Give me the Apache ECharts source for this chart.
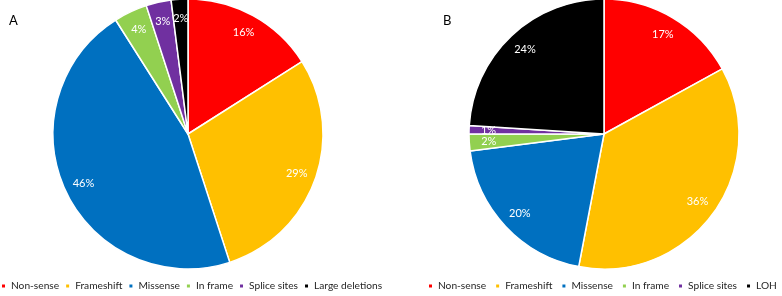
<!DOCTYPE html>
<html><head><meta charset="utf-8">
<script src="https://cdn.jsdelivr.net/npm/echarts@6/dist/echarts.min.js"></script>
<style>html,body{margin:0;padding:0;background:#fff}#c{width:782px;height:296px}</style>
</head><body><div id="c"></div>
<script>
const categoriesA = ['Non-sense','Frameshift','Missense','In frame','Splice sites','Large deletions'];
const valuesA = [16, 29, 46, 4, 3, 2];
const categoriesB = ['Non-sense','Frameshift','Missense','In frame','Splice sites','LOH'];
const valuesB = [17, 36, 20, 2, 1, 24];
const colors = ['#FF0000','#FFC000','#0070C0','#92D050','#7030A0','#000000'];
const panelTitles = ['A','B'];

const font = 'Lato, Liberation Sans, Arial, sans-serif';
function mk(cats, vals){ return cats.map((n,i)=>({name:n, value:vals[i], itemStyle:{color:colors[i]}})); }
function mainSeries(cats, vals, center){
  return {type:'pie', center:center, radius:[0,135], startAngle:90, clockwise:true,
    data:mk(cats,vals), label:{show:false}, labelLine:{show:false},
    itemStyle:{borderColor:'#fff', borderWidth:1.5}, emphasis:{disabled:true}, animation:false};
}
function labelSeries(cats, vals, center){
  return {type:'pie', center:center, radius:[90,135], startAngle:90, clockwise:true, silent:true,
    avoidLabelOverlap:false,
    data:cats.map((n,i)=>({name:n, value:vals[i], itemStyle:{color:'rgba(0,0,0,0)'}})),
    label:{show:true, position:'inside', color:'#fff', fontFamily:font, fontSize:11,
      formatter:p=>Math.round(p.percent)+'%'},
    labelLayout:{hideOverlap:false},
    labelLine:{show:false}, itemStyle:{borderWidth:0}, emphasis:{disabled:true}, animation:false,
    legendHoverLink:false};
}
const legendText = {fontFamily:font, fontSize:10.2, color:'#262626'};
const chart = echarts.init(document.getElementById('c'));
chart.setOption({
  animation:false,
  title:[
    {text:panelTitles[0], left:4, top:9, textStyle:{fontFamily:font, fontSize:13, fontWeight:'normal', color:'#000'}},
    {text:panelTitles[1], left:438, top:9, textStyle:{fontFamily:font, fontSize:13, fontWeight:'normal', color:'#000'}}
  ],
  legend:[
    {data:categoriesA, left:0, top:281, width:400, icon:'rect', itemWidth:5, itemHeight:5, itemGap:5, padding:0,
      textStyle:legendText, selectedMode:false},
    {data:categoriesB, left:427, top:281, width:400, icon:'rect', itemWidth:5, itemHeight:5, itemGap:8, padding:0,
      textStyle:legendText, selectedMode:false}
  ],
  series:[
    mainSeries(categoriesA, valuesA, [188,134]),
    mainSeries(categoriesB, valuesB, [604,134]),
    labelSeries(categoriesA, valuesA, [188,134]),
    labelSeries(categoriesB, valuesB, [604,134])
  ]
});
</script></body></html>
